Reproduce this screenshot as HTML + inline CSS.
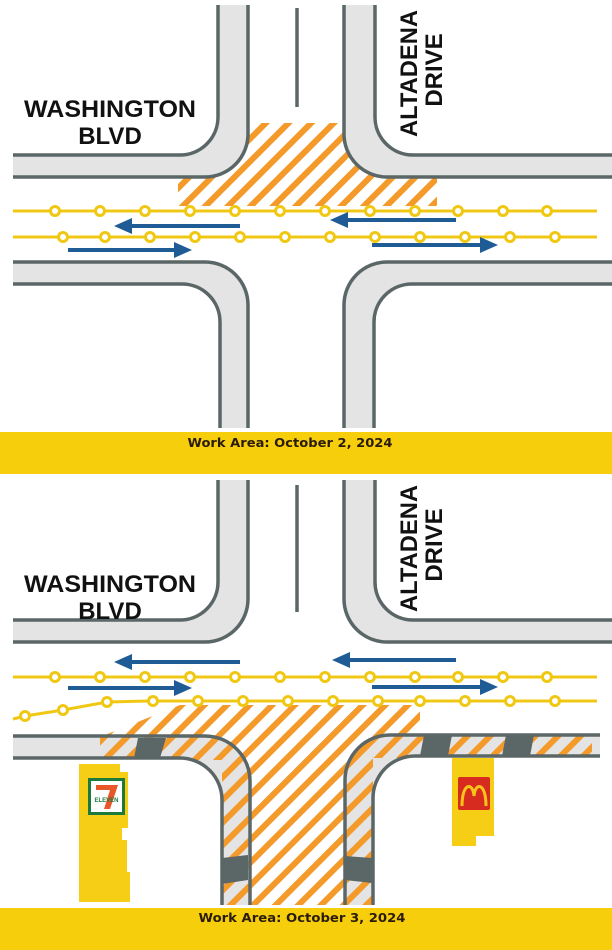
<!DOCTYPE html>
<html><head><meta charset="utf-8"><style>
html,body{margin:0;padding:0;background:#fff;}
svg{display:block;}
</style></head><body>
<svg width="612" height="950" viewBox="0 0 612 950" xmlns="http://www.w3.org/2000/svg">
<defs>
<pattern id="h" width="16" height="16" patternUnits="userSpaceOnUse" patternTransform="rotate(45)">
<rect x="0" y="0" width="6" height="16" fill="#f39a2a"/>
</pattern>
</defs>
<rect width="612" height="950" fill="#fff"/>

<!-- ============ TOP PANEL ============ -->
<polygon points="178,123 437,123 437,206 178,206" fill="url(#h)"/>
<g fill="#fff">
<path d="M0,0 H218 V117 A38,38 0 0 1 180,155 H0 Z"/>
<path d="M612,0 H375 V117 A38,38 0 0 0 413,155 H612 Z"/>
</g>
<g fill="#e4e4e4">
<path d="M13,177 H205 A43,43 0 0 0 248,134 V5 H218 V117 A38,38 0 0 1 180,155 H13 Z"/>
<path d="M612,177 H387 A43,43 0 0 1 344,134 V5 H375 V117 A38,38 0 0 0 413,155 H612 Z"/>
<path d="M13,262 H205 A43,43 0 0 1 248,305 V428 H220 V322 A38,38 0 0 0 182,284 H13 Z"/>
<path d="M612,262 H387 A43,43 0 0 0 344,305 V428 H374 V322 A38,38 0 0 1 412,284 H612 Z"/>
</g>
<g fill="none" stroke="#5b6667" stroke-width="3.5">
<path d="M13,177 H205 A43,43 0 0 0 248,134 V5"/>
<path d="M13,155 H180 A38,38 0 0 0 218,117 V5"/>
<path d="M612,177 H387 A43,43 0 0 1 344,134 V5"/>
<path d="M612,155 H413 A38,38 0 0 1 375,117 V5"/>
<path d="M13,262 H205 A43,43 0 0 1 248,305 V428"/>
<path d="M13,284 H182 A38,38 0 0 1 220,322 V428"/>
<path d="M612,262 H387 A43,43 0 0 0 344,305 V428"/>
<path d="M612,284 H412 A38,38 0 0 0 374,322 V428"/>
<path d="M297,8 V107"/>
</g>
<g stroke="#f0c814" stroke-width="3" fill="#fff">
<line x1="13" y1="211" x2="597" y2="211"/>
<line x1="13" y1="237" x2="597" y2="237"/>
<circle cx="55" cy="211" r="4.5"/><circle cx="100" cy="211" r="4.5"/><circle cx="145" cy="211" r="4.5"/><circle cx="190" cy="211" r="4.5"/><circle cx="235" cy="211" r="4.5"/><circle cx="280" cy="211" r="4.5"/><circle cx="325" cy="211" r="4.5"/><circle cx="370" cy="211" r="4.5"/><circle cx="415" cy="211" r="4.5"/><circle cx="458" cy="211" r="4.5"/><circle cx="503" cy="211" r="4.5"/><circle cx="547" cy="211" r="4.5"/>
<circle cx="63" cy="237" r="4.5"/><circle cx="105" cy="237" r="4.5"/><circle cx="150" cy="237" r="4.5"/><circle cx="195" cy="237" r="4.5"/><circle cx="240" cy="237" r="4.5"/><circle cx="285" cy="237" r="4.5"/><circle cx="330" cy="237" r="4.5"/><circle cx="375" cy="237" r="4.5"/><circle cx="420" cy="237" r="4.5"/><circle cx="465" cy="237" r="4.5"/><circle cx="510" cy="237" r="4.5"/><circle cx="555" cy="237" r="4.5"/>
</g>
<g fill="#1f5c96">
<rect x="128" y="224" width="112" height="4"/><polygon points="114,226 132,218 132,234"/>
<rect x="344" y="218" width="112" height="4"/><polygon points="330,220 348,212 348,228"/>
<rect x="68" y="248" width="110" height="4"/><polygon points="192,250 174,242 174,258"/>
<rect x="372" y="243" width="112" height="4"/><polygon points="498,245 480,237 480,253"/>
</g>
<g font-family="'Liberation Sans',Arial,sans-serif" font-weight="bold" fill="#111">
<text x="110" y="117" font-size="24" text-anchor="middle" textLength="172" lengthAdjust="spacingAndGlyphs">WASHINGTON</text>
<text x="110" y="144" font-size="24" text-anchor="middle">BLVD</text>
<text transform="translate(417,137) rotate(-90)" font-size="24" textLength="127" lengthAdjust="spacingAndGlyphs">ALTADENA</text>
<text transform="translate(442,70) rotate(-90)" font-size="24" text-anchor="middle">DRIVE</text>
</g>
<rect x="0" y="432" width="612" height="42" fill="#f7ce0c"/>
<text x="290" y="447" font-family="'DejaVu Sans',sans-serif" font-weight="bold" font-size="12.5" fill="#2a1c08" text-anchor="middle" textLength="205" lengthAdjust="spacingAndGlyphs">Work Area: October 2, 2024</text>

<!-- ============ BOTTOM PANEL ============ -->
<g fill="#e4e4e4">
<path d="M13,642 H205 A43,43 0 0 0 248,599 V480 H218 V582 A38,38 0 0 1 180,620 H13 Z"/>
<path d="M612,642 H387 A43,43 0 0 1 344,599 V480 H375 V582 A38,38 0 0 0 413,620 H612 Z"/>
<path d="M13,736 H205 A45,45 0 0 1 250,781 V905 H222 V800 A42,42 0 0 0 180,758 H13 Z"/>
<path d="M600,735 H390 A45,45 0 0 0 345,780 V905 H373 V798 A42,42 0 0 1 415,756 H600 Z"/>
</g>
<polygon points="180,705 420,705 420,735 592,735 592,758 373,758 373,905 222,905 222,760 100,760 100,737" fill="url(#h)"/>
<g fill="#fff">
<path d="M0,759 H180 A41,41 0 0 1 221,800 V906 H0 Z"/>
<path d="M612,757 H415 A41,41 0 0 0 374,798 V906 H612 Z"/>
</g>
<g fill="#5b6667">
<polygon points="138,738 166,738 160,758 134,758"/>
<polygon points="424,735 452,735 448,756 420,756"/>
<polygon points="506,735 534,735 530,756 502,756"/>
<polygon points="222,858 248,855 248,880 222,884"/>
<polygon points="345,856 372,858 372,883 345,880"/>
</g>
<g fill="none" stroke="#5b6667" stroke-width="3.5">
<path d="M13,642 H205 A43,43 0 0 0 248,599 V480"/>
<path d="M13,620 H180 A38,38 0 0 0 218,582 V480"/>
<path d="M612,642 H387 A43,43 0 0 1 344,599 V480"/>
<path d="M612,620 H413 A38,38 0 0 1 375,582 V480"/>
<path d="M13,736 H205 A45,45 0 0 1 250,781 V905"/>
<path d="M13,758 H180 A42,42 0 0 1 222,800 V905"/>
<path d="M600,735 H390 A45,45 0 0 0 345,780 V905"/>
<path d="M600,756 H415 A42,42 0 0 0 373,798 V905"/>
<path d="M297,485 V612"/>
</g>
<g stroke="#f0c814" stroke-width="3" fill="#fff">
<line x1="13" y1="677" x2="597" y2="677"/>
<polyline points="13,719 25,716 63,710 107,702 150,701 597,701" fill="none"/>
<circle cx="55" cy="677" r="4.5"/><circle cx="100" cy="677" r="4.5"/><circle cx="145" cy="677" r="4.5"/><circle cx="190" cy="677" r="4.5"/><circle cx="235" cy="677" r="4.5"/><circle cx="280" cy="677" r="4.5"/><circle cx="325" cy="677" r="4.5"/><circle cx="370" cy="677" r="4.5"/><circle cx="415" cy="677" r="4.5"/><circle cx="458" cy="677" r="4.5"/><circle cx="503" cy="677" r="4.5"/><circle cx="547" cy="677" r="4.5"/>
<circle cx="25" cy="716" r="4.5"/><circle cx="63" cy="710" r="4.5"/><circle cx="107" cy="702" r="4.5"/><circle cx="153" cy="701" r="4.5"/><circle cx="198" cy="701" r="4.5"/><circle cx="243" cy="701" r="4.5"/><circle cx="288" cy="701" r="4.5"/><circle cx="333" cy="701" r="4.5"/><circle cx="378" cy="701" r="4.5"/><circle cx="420" cy="701" r="4.5"/><circle cx="465" cy="701" r="4.5"/><circle cx="510" cy="701" r="4.5"/><circle cx="555" cy="701" r="4.5"/>
</g>
<g fill="#1f5c96">
<rect x="128" y="660" width="112" height="4"/><polygon points="114,662 132,654 132,670"/>
<rect x="346" y="658" width="110" height="4"/><polygon points="332,660 350,652 350,668"/>
<rect x="68" y="686" width="110" height="4"/><polygon points="192,688 174,680 174,696"/>
<rect x="372" y="685" width="112" height="4"/><polygon points="498,687 480,679 480,695"/>
</g>
<g font-family="'Liberation Sans',Arial,sans-serif" font-weight="bold" fill="#111">
<text x="110" y="592" font-size="24" text-anchor="middle" textLength="172" lengthAdjust="spacingAndGlyphs">WASHINGTON</text>
<text x="110" y="619" font-size="24" text-anchor="middle">BLVD</text>
<text transform="translate(417,612) rotate(-90)" font-size="24" textLength="127" lengthAdjust="spacingAndGlyphs">ALTADENA</text>
<text transform="translate(442,545) rotate(-90)" font-size="24" text-anchor="middle">DRIVE</text>
</g>
<!-- 7-Eleven -->
<path d="M79,764 H120 V772 H128 V828 H122 V840 H127 V872 H130 V902 H79 Z" fill="#f7ce16"/>
<rect x="88" y="778" width="37" height="37" fill="#1c7a3c"/>
<rect x="91" y="781" width="31" height="31" fill="#fff"/>
<path d="M96,785 H118 L110,809 H104 L110,790 H96 Z" fill="#e8562a"/>
<text x="106.5" y="802" font-family="'Liberation Sans',sans-serif" font-weight="bold" font-size="6" fill="#1c7a3c" text-anchor="middle">ELEVEN</text>
<!-- McDonald's -->
<path d="M452,758 H494 V836 H476 V846 H452 Z" fill="#f7ce16"/>
<rect x="458" y="777" width="32" height="33" rx="2" fill="#d62b1e"/>
<path d="M462,806 C462,782 473,782 474,796 C475,782 486,782 486,806" fill="none" stroke="#f7c51a" stroke-width="3"/>

<rect x="0" y="908" width="612" height="42" fill="#f7ce0c"/>
<text x="302" y="922" font-family="'DejaVu Sans',sans-serif" font-weight="bold" font-size="12.5" fill="#2a1c08" text-anchor="middle" textLength="207" lengthAdjust="spacingAndGlyphs">Work Area: October 3, 2024</text>
</svg>
</body></html>
